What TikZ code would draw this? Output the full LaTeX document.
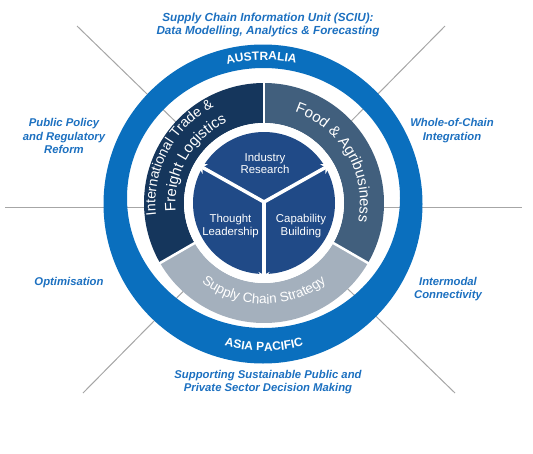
\documentclass[tikz,border=0pt]{standalone}
\usepackage{fontspec}
\setmainfont{Liberation Sans}
\usetikzlibrary{decorations.text,arrows.meta}
\definecolor{ringblue}{HTML}{0A6FBE}
\definecolor{txtblue}{HTML}{1C70C0}
\definecolor{navyseg}{HTML}{15365C}
\definecolor{slateseg}{HTML}{415F7D}
\definecolor{grayseg}{HTML}{A4B0BD}
\definecolor{innerblue}{HTML}{204A87}
\definecolor{lineg}{HTML}{A6A6A6}
\begin{document}
\begin{tikzpicture}[x=1pt,y=1pt,
  outer/.style={font=\fontsize{11.3}{13.5}\selectfont\bfseries\itshape, text=txtblue, align=center, inner sep=0pt},
  innertext/.style={font=\fontsize{11.4}{12.5}\selectfont, text=white, align=center, inner sep=0pt},
  spoke/.style={white, line width=3.5pt, -{Stealth[length=9pt,width=11pt]}},
  sep/.style={white, line width=2.5pt},
  guide/.style={lineg, line width=1pt}]
\useasboundingbox (0,0) rectangle (533,-453);
% guide lines
\coordinate (L0) at (5,-207);
\coordinate (R0) at (522,-207);
\coordinate (TL) at (77,-26);
\coordinate (TR) at (445,-26);
\coordinate (BL) at (83,-393);
\coordinate (BR) at (455,-393);
\draw[guide] (L0) -- (R0);
\draw[guide] (TL) -- (BR);
\draw[guide] (TR) -- (BL);
% outer ring (thicker at the bottom)
\fill[ringblue, even odd rule] (263,-204) circle[radius=159.5] (263.5,-198) ellipse[x radius=136.5, y radius=130];
\begin{scope}[shift={(264,-203)}]
  % segments
  \fill[navyseg] (90:120) arc[start angle=90,end angle=210,radius=120] -- (210:80) arc[start angle=210,end angle=90,radius=80] -- cycle;
  \fill[slateseg] (-30:120) arc[start angle=-30,end angle=90,radius=120] -- (90:80) arc[start angle=90,end angle=-30,radius=80] -- cycle;
  \fill[grayseg] (210:120) arc[start angle=210,end angle=330,radius=120] -- (330:80) arc[start angle=330,end angle=210,radius=80] -- cycle;
  \draw[sep] (90:79) -- (90:121);
  \draw[sep] (210:79) -- (210:121);
  \draw[sep] (330:79) -- (330:121);
  % inner circle
  \fill[white] (0,0) circle[radius=80];
  \fill[innerblue] (0,0) circle[radius=71];
  \coordinate (J) at (0,1);
  \coordinate (A1) at (150:77);
  \coordinate (A2) at (30:77);
  \coordinate (A3) at (270:78);
  \draw[spoke] (J) -- (A1);
  \draw[spoke] (J) -- (A2);
  \draw[spoke] (J) -- (A3);
  % curved texts
  \path[decorate, decoration={text along path, text align=center,
     text={|\fontsize{14}{14}\selectfont\color{white}|International Trade {\&}}}]
     (212:108.5) arc[start angle=212,end angle=92,radius=108.5];
  \path[decorate, decoration={text along path, text align=center,
     text={|\fontsize{15}{15}\selectfont\color{white}|Freight Logistics}}]
     (210:88.5) arc[start angle=210,end angle=90,radius=88.5];
  \path[decorate, decoration={text along path, text align=center,
     text={|\fontsize{15}{15}\selectfont\color{white}|Food {\&} Agribusiness}}]
     (90:96) arc[start angle=90,end angle=-30,radius=96];
  \path[decorate, decoration={text along path, text align=center,
     text={|\fontsize{13.5}{13.5}\selectfont\color{white}|Supply Chain Strategy}}]
     (210:101) arc[start angle=210,end angle=330,radius=101];
  \path[decorate, decoration={text along path, text align=center,
     text={|\fontsize{12}{12}\selectfont\bfseries\color{white}|AUSTRALIA}}]
     (136:143) arc[start angle=136,end angle=46,radius=143];
  \path[decorate, decoration={text along path, text align=center,
     text={|\fontsize{12}{12}\selectfont\bfseries\color{white}|ASIA PACIFIC}}]
     (225:148) arc[start angle=225,end angle=315,radius=148];
\end{scope}
% inner labels
\node[innertext] (ind) at (265,-163.5) {Industry\\Research};
\node[innertext] (tho) at (230.5,-226) {Thought\\Leadership};
\node[innertext] (cap) at (301,-226) {Capability\\Building};
% outer labels
\node[outer, font=\fontsize{11.7}{13.5}\selectfont\bfseries\itshape] (sciu) at (268,-25) {Supply Chain Information Unit (SCIU):\\Data Modelling, Analytics \& Forecasting};
\node[outer] (ppr) at (64,-136) {Public Policy\\and Regulatory\\Reform};
\node[outer] (opt) at (69,-283) {Optimisation};
\node[outer] (woc) at (452,-130.5) {Whole-of-Chain\\Integration};
\node[outer] (imc) at (448,-289) {Intermodal\\Connectivity};
\node[outer] (sup) at (268,-382) {Supporting Sustainable Public and\\Private Sector Decision Making};
\end{tikzpicture}
\end{document}
